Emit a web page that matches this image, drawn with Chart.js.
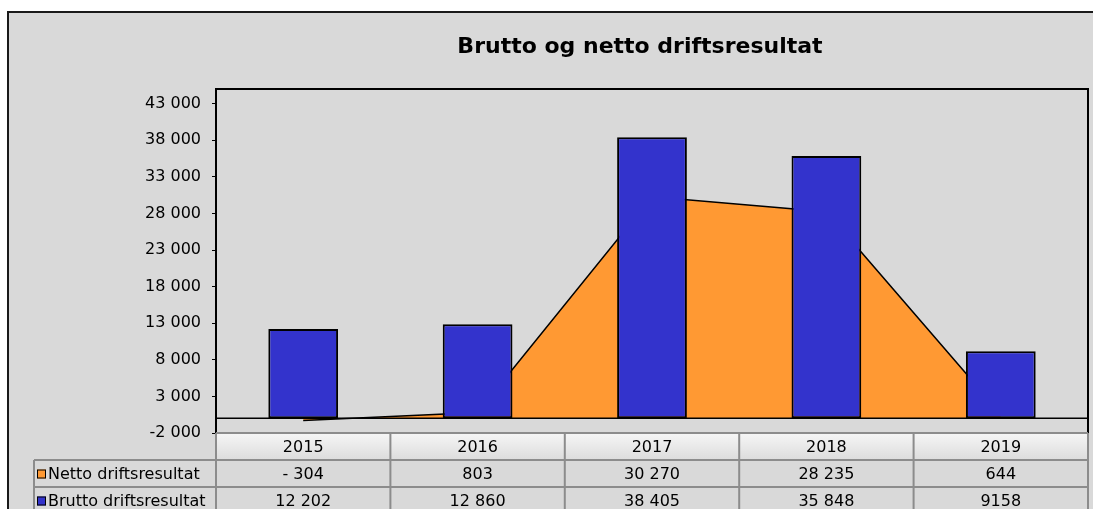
<!DOCTYPE html>
<html>
<head>
<meta charset="utf-8">
<script src="https://cdn.jsdelivr.net/npm/chart.js@4/dist/chart.umd.min.js"></script>
<style>
  html, body { margin: 0; padding: 0; background: #fff; overflow: hidden; }
  #frame { position: absolute; left: 7px; top: 11px; width: 1100px; height: 520px; background: #d9d9d9; border: 2px solid #1a1a1a; }
  #wrap { position: absolute; left: 0; top: 0; width: 1093px; height: 509px; }
</style>
</head>
<body>
<div id="frame"></div>
<div id="wrap"><canvas id="chart"></canvas></div>
<script>
var years = ['2015', '2016', '2017', '2018', '2019'];
var netto = [-304, 803, 30270, 28235, 644];
var brutto = [12202, 12860, 38405, 35848, 9158];
var nettoText = ['- 304', '803', '30 270', '28 235', '644'];
var bruttoText = ['12 202', '12 860', '38 405', '35 848', '9158'];
var yTicks = [-2000, 3000, 8000, 13000, 18000, 23000, 28000, 33000, 38000, 43000];
var seriesNames = ['Netto driftsresultat', 'Brutto driftsresultat'];
var chartTitle = 'Brutto og netto driftsresultat';

var FONT = '"DejaVu Sans", "Liberation Sans", Arial, sans-serif';
var ORANGE = '#ff9933';
var BLUE = '#3333cc';

function fmt(v) {
  var s = Math.abs(v).toString().replace(/\B(?=(\d{3})+(?!\d))/g, ' ');
  return (v < 0 ? '-' : '') + s;
}

// zero line, plot border, title and the data table under the chart
var tablePlugin = {
  id: 'excelTable',
  afterDatasetsDraw: function(chart) {
    var ctx = chart.ctx, a = chart.chartArea;
    var y0 = chart.scales.y.getPixelForValue(0);
    ctx.save();
    ctx.strokeStyle = '#000';
    ctx.lineWidth = 1.5;
    ctx.beginPath();
    ctx.moveTo(a.left, y0);
    ctx.lineTo(a.right, y0);
    ctx.stroke();
    ctx.restore();
  },
  afterDraw: function(chart) {
    var ctx = chart.ctx, a = chart.chartArea, xs = chart.scales.x;
    var colW = (a.right - a.left) / years.length;
    var rowH = 27;
    var top = a.bottom;
    var legLeft = 34;

    ctx.save();
    // title
    ctx.fillStyle = '#000';
    ctx.font = 'bold 22px ' + FONT;
    ctx.textAlign = 'center';
    ctx.textBaseline = 'middle';
    ctx.fillText(chartTitle, 640, 47);

    // plot border top + right
    ctx.strokeStyle = '#000';
    ctx.lineWidth = 2;
    ctx.beginPath();
    ctx.moveTo(a.left, a.top);
    ctx.lineTo(a.right, a.top);
    ctx.lineTo(a.right, a.bottom);
    ctx.stroke();

    // header cells
    for (var i = 0; i < years.length; i++) {
      var cx = xs.getPixelForValue(i);
      var g = ctx.createLinearGradient(0, top, 0, top + rowH);
      g.addColorStop(0, '#f6f6f6');
      g.addColorStop(1, '#dcdcdc');
      ctx.fillStyle = g;
      ctx.fillRect(cx - colW / 2, top, colW, rowH);
    }

    // grid lines
    ctx.strokeStyle = '#8c8c8c';
    ctx.lineWidth = 2;
    ctx.beginPath();
    ctx.moveTo(a.left, top);
    ctx.lineTo(a.right, top);
    for (var r = 1; r <= 3; r++) {
      ctx.moveTo(legLeft, top + rowH * r);
      ctx.lineTo(a.right, top + rowH * r);
    }
    ctx.moveTo(legLeft, top + rowH);
    ctx.lineTo(legLeft, top + rowH * 3);
    for (var k = 0; k <= years.length; k++) {
      var lx = a.left + colW * k;
      ctx.moveTo(lx, top);
      ctx.lineTo(lx, top + rowH * 3);
    }
    ctx.stroke();

    // texts
    ctx.fillStyle = '#000';
    ctx.font = '16px ' + FONT;
    ctx.textAlign = 'center';
    ctx.textBaseline = 'middle';
    for (var j = 0; j < years.length; j++) {
      var px = xs.getPixelForValue(j);
      ctx.fillText(years[j], px, top + rowH * 0.5 + 1);
      ctx.fillText(nettoText[j], px, top + rowH * 1.5 + 1);
      ctx.fillText(bruttoText[j], px, top + rowH * 2.5 + 1);
    }

    // legend keys
    var colors = [ORANGE, BLUE];
    ctx.textAlign = 'left';
    for (var s = 0; s < 2; s++) {
      var ry = top + rowH * (s + 1.5);
      ctx.fillStyle = colors[s];
      ctx.fillRect(37, ry - 4, 9, 9);
      ctx.strokeStyle = '#000';
      ctx.lineWidth = 1;
      ctx.strokeRect(37.5, ry - 3.5, 8, 8);
      ctx.fillStyle = '#000';
      ctx.fillText(seriesNames[s], 48, ry + 1);
    }
    ctx.restore();
  }
};

new Chart(document.getElementById('chart'), {
  type: 'bar',
  data: {
    labels: years,
    datasets: [
      {
        type: 'line',
        label: seriesNames[0],
        data: netto,
        fill: 'origin',
        backgroundColor: ORANGE,
        borderColor: '#000',
        borderWidth: 1.5,
        pointRadius: 0,
        tension: 0,
        order: 2
      },
      {
        label: seriesNames[1],
        data: brutto,
        backgroundColor: BLUE,
        borderColor: '#000',
        borderWidth: 2,
        borderSkipped: false,
        barPercentage: 0.4,
        categoryPercentage: 1,
        order: 1
      }
    ]
  },
  options: {
    responsive: true,
    maintainAspectRatio: false,
    animation: false,
    devicePixelRatio: 1,
    layout: { padding: { left: 0, right: 5, top: 89, bottom: 76 } },
    plugins: {
      legend: { display: false },
      tooltip: { enabled: false },
      title: { display: false }
    },
    scales: {
      x: { display: false, offset: true },
      y: {
        min: -2000,
        max: 45000,
        afterBuildTicks: function(s) { s.ticks = yTicks.map(function(v) { return { value: v }; }); },
        afterFit: function(s) { s.width = 216; },
        ticks: { color: '#000', padding: 11, font: { family: FONT, size: 16 }, callback: function(v) { return fmt(v); } },
        grid: { drawOnChartArea: false, drawTicks: true, tickLength: 4, color: '#000', lineWidth: 1 },
        border: { color: '#000', width: 2 }
      }
    }
  },
  plugins: [tablePlugin]
});
</script>
</body>
</html>
